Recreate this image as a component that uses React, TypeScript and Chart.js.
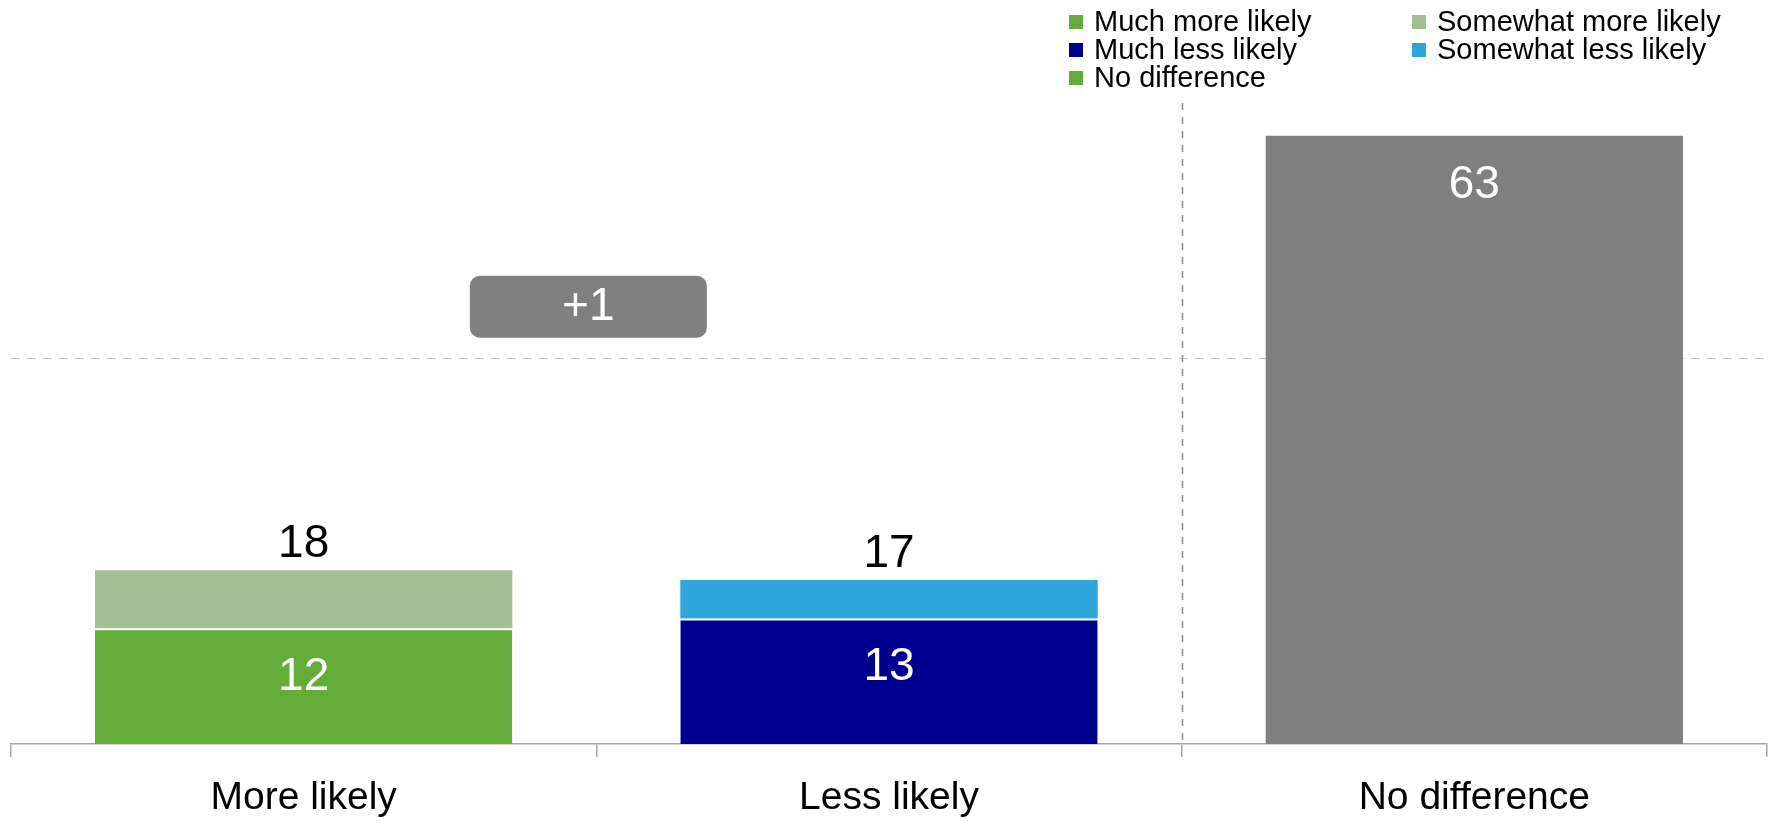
import React, { useEffect, useRef } from "react";
import { Chart, registerables } from "chart.js";

Chart.register(...registerables);

// ---------- data ----------
const CATEGORIES = ["More likely", "Less likely", "No difference"];
const MUCH_MORE = [12, null, null];
const SOMEWHAT_MORE = [6, null, null];
const MUCH_LESS = [null, 13, null];
const SOMEWHAT_LESS = [null, 4, null];
const NO_DIFF = [null, null, 63];
const TOTALS = [18, 17, null];
const NET_LABEL = "+1";
const NET_VALUE = 45.3;
const GRID_VALUES = [40];
const Y_MAX = 66.3;

const LEGEND_ROWS = [
  ["Much more likely", "Somewhat more likely"],
  ["Much less likely", "Somewhat less likely"],
  ["No difference"],
];

// ---------- styles ----------
const GREEN = "#62AC37";
const LIGHT_GREEN = "#A3BE90";
const NAVY = "#00008F";
const SKY = "#2EA5DB";
const GREY = "#808080";
const LEGEND_COLORS: Record<string, string> = {
  "Much more likely": GREEN,
  "Somewhat more likely": LIGHT_GREEN,
  "Much less likely": NAVY,
  "Somewhat less likely": SKY,
  "No difference": GREEN,
};
const FONT = 'Arial, "Liberation Sans", Helvetica, sans-serif';
const INSIDE_LABEL_SETS = [0, 2, 4];

const overlayPlugin = {
  id: "overlay",
  beforeDatasetsDraw(chart: any) {
    const { ctx, chartArea, scales } = chart;
    const xs = scales.x;
    const ys = scales.y;
    ctx.save();
    // horizontal dashed gridlines
    ctx.strokeStyle = "#bfbfbf";
    ctx.lineWidth = 1.2;
    ctx.setLineDash([9, 7]);
    GRID_VALUES.forEach((v) => {
      const y = Math.round(ys.getPixelForValue(v)) + 0.5;
      ctx.beginPath();
      ctx.moveTo(chartArea.left, y);
      ctx.lineTo(chartArea.right, y);
      ctx.stroke();
    });
    // vertical dashed separator between "Less likely" and "No difference"
    const sx = Math.round((xs.getPixelForValue(1) + xs.getPixelForValue(2)) / 2) + 0.5;
    ctx.strokeStyle = "#8c8c8c";
    ctx.lineWidth = 1.5;
    ctx.setLineDash([7, 7]);
    ctx.beginPath();
    ctx.moveTo(sx, chartArea.top - 1);
    ctx.lineTo(sx, chartArea.bottom);
    ctx.stroke();
    ctx.restore();
  },
  afterDatasetsDraw(chart: any) {
    const { ctx, scales } = chart;
    const xs = scales.x;
    const ys = scales.y;
    ctx.save();
    ctx.textAlign = "center";
    ctx.textBaseline = "middle";

    // inside value labels
    ctx.font = `46px ${FONT}`;
    ctx.fillStyle = "#ffffff";
    INSIDE_LABEL_SETS.forEach((di) => {
      const meta = chart.getDatasetMeta(di);
      const data = chart.data.datasets[di].data;
      meta.data.forEach((el: any, i: number) => {
        const v = data[i];
        if (v == null) return;
        ctx.fillText(String(v), el.x, el.y + 49);
      });
    });

    // totals above stacks
    ctx.fillStyle = "#000000";
    TOTALS.forEach((t, i) => {
      if (t == null) return;
      ctx.fillText(String(t), xs.getPixelForValue(i), ys.getPixelForValue(t) - 26);
    });

    // net badge
    const bx = (xs.getPixelForValue(0) + xs.getPixelForValue(1)) / 2 - 8;
    const by = ys.getPixelForValue(NET_VALUE);
    const bw = 237;
    const bh = 62;
    ctx.fillStyle = GREY;
    ctx.beginPath();
    (ctx as any).roundRect(bx - bw / 2, by - bh / 2, bw, bh, 10);
    ctx.fill();
    ctx.fillStyle = "#ffffff";
    ctx.font = `46px ${FONT}`;
    ctx.fillText(NET_LABEL, bx, by + 1);

    // category labels
    ctx.fillStyle = "#000000";
    ctx.font = `39px ${FONT}`;
    ctx.textBaseline = "alphabetic";
    CATEGORIES.forEach((c, i) => {
      ctx.fillText(c, xs.getPixelForValue(i), 809);
    });

    // legend
    ctx.textAlign = "left";
    ctx.textBaseline = "middle";
    ctx.font = `29px ${FONT}`;
    const colX = [1069, 1412];
    const rowY = [22, 50, 78];
    LEGEND_ROWS.forEach((row, r) => {
      row.forEach((name, c) => {
        ctx.fillStyle = LEGEND_COLORS[name];
        ctx.fillRect(colX[c], rowY[r] - 7, 14, 14);
        ctx.fillStyle = "#000000";
        ctx.fillText(name, colX[c] + 25, rowY[r] + 1);
      });
    });
    ctx.restore();
  },
};

export default function App() {
  const ref = useRef<HTMLCanvasElement | null>(null);
  useEffect(() => {
    document.body.style.margin = "0";
    if (!ref.current) return;
    const seg = { top: 2, bottom: 0, left: 0, right: 0 };
    const chart = new Chart(ref.current, {
      type: "bar",
      data: {
        labels: CATEGORIES,
        datasets: [
          { label: "Much more likely", data: MUCH_MORE, backgroundColor: GREEN, borderColor: "#ffffff", borderWidth: seg, borderSkipped: false },
          { label: "Somewhat more likely", data: SOMEWHAT_MORE, backgroundColor: LIGHT_GREEN, borderWidth: 0 },
          { label: "Much less likely", data: MUCH_LESS, backgroundColor: NAVY, borderColor: "#ffffff", borderWidth: seg, borderSkipped: false },
          { label: "Somewhat less likely", data: SOMEWHAT_LESS, backgroundColor: SKY, borderWidth: 0 },
          { label: "No difference", data: NO_DIFF, backgroundColor: GREY, borderWidth: 0 },
        ] as any,
      },
      options: {
        animation: false,
        responsive: false,
        devicePixelRatio: 1,
        layout: { padding: { left: 11, right: 7, top: 104, bottom: 64 } },
        datasets: { bar: { barPercentage: 0.713, categoryPercentage: 1 } },
        plugins: { legend: { display: false }, tooltip: { enabled: false } },
        scales: {
          x: {
            stacked: true,
            grid: {
              display: true,
              drawOnChartArea: false,
              drawTicks: true,
              tickLength: 13,
              color: "#a6a6a6",
              lineWidth: 1.5,
              offset: true,
            },
            border: { display: true, color: "#a6a6a6", width: 1.5 },
            ticks: { display: false },
          },
          y: { stacked: true, display: false, min: 0, max: Y_MAX },
        },
      },
      plugins: [overlayPlugin],
    });
    return () => chart.destroy();
  }, []);
  return (
    <div style={{ width: 1774, height: 821 }}>
      <canvas ref={ref} width={1774} height={821} style={{ display: "block" }} />
    </div>
  );
}
